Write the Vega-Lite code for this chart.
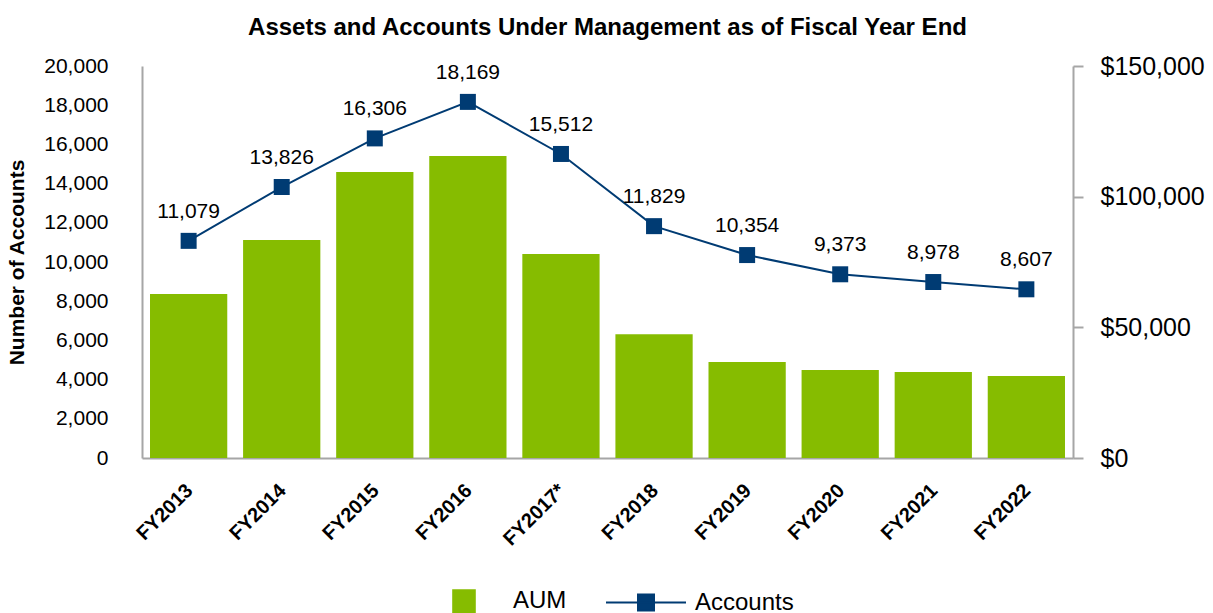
{
  "$schema": "https://vega.github.io/schema/vega-lite/v6.json",
  "width": 931,
  "height": 392,
  "autosize": {"type": "none"},
  "padding": {"left": 142, "top": 66, "right": 140, "bottom": 155},
  "background": "white",
  "title": {
    "text": "Assets and Accounts Under Management as of Fiscal Year End",
    "font": "Liberation Sans",
    "fontSize": 24,
    "fontWeight": "bold",
    "color": "#000000",
    "anchor": "middle",
    "offset": 14
  },
  "data": {
    "values": [
      {"year": "FY2013", "AUM": 62800, "Accounts": 11079},
      {"year": "FY2014", "AUM": 83400, "Accounts": 13826},
      {"year": "FY2015", "AUM": 109400, "Accounts": 16306},
      {"year": "FY2016", "AUM": 115600, "Accounts": 18169},
      {"year": "FY2017*", "AUM": 78100, "Accounts": 15512},
      {"year": "FY2018", "AUM": 47400, "Accounts": 11829},
      {"year": "FY2019", "AUM": 36700, "Accounts": 10354},
      {"year": "FY2020", "AUM": 33700, "Accounts": 9373},
      {"year": "FY2021", "AUM": 32900, "Accounts": 8978},
      {"year": "FY2022", "AUM": 31400, "Accounts": 8607}
    ]
  },
  "config": {
    "view": {"stroke": null},
    "axis": {
      "grid": false,
      "labelFont": "Liberation Sans",
      "titleFont": "Liberation Sans",
      "labelColor": "#000000",
      "titleColor": "#000000",
      "domainColor": "#a6a6a6",
      "tickColor": "#a6a6a6",
      "domainWidth": 2,
      "tickWidth": 2
    }
  },
  "encoding": {
    "x": {
      "field": "year",
      "type": "nominal",
      "sort": null,
      "scale": {"paddingInner": 0.17, "paddingOuter": 0.086},
      "axis": {
        "title": null,
        "labelAngle": -45,
        "labelFontSize": 20,
        "labelFontWeight": "bold",
        "ticks": false,
        "tickSize": 0,
        "labelPadding": 22,
        "labelOffset": -6
      }
    }
  },
  "layer": [
    {
      "mark": {"type": "bar"},
      "encoding": {
        "y": {
          "field": "AUM",
          "type": "quantitative",
          "scale": {"domain": [0, 150000], "nice": false},
          "axis": {
            "orient": "right",
            "title": null,
            "values": [0, 50000, 100000, 150000],
            "format": "$,.0f",
            "labelFontSize": 25,
            "tickSize": 10,
            "labelPadding": 17
          }
        },
        "color": {
          "datum": "AUM",
          "type": "nominal",
          "scale": {"domain": ["AUM", "Accounts"], "range": ["#86BC00", "#003B73"]},
          "legend": {
            "orient": "none",
            "legendX": 281,
            "legendY": 494,
            "direction": "horizontal",
            "title": null,
            "padding": 0,
            "labelFont": "Liberation Sans",
            "labelFontSize": 24,
            "labelColor": "#000000",
            "symbolSize": 6400,
            "labelOffset": 8,
            "columnPadding": 35,
            "encode": {
              "symbols": {
                "update": {
                  "shape": {"signal": "datum.value === 'AUM' ? 'M-0.27,-0.27H0.27V0.27H-0.27Z' : 'M-1,0H1M-0.2,-0.2H0.2V0.2H-0.2Z'"},
                  "fill": {"signal": "datum.value === 'AUM' ? '#86BC00' : '#003B73'"},
                  "stroke": {"signal": "datum.value === 'AUM' ? '#86BC00' : '#003B73'"},
                  "strokeWidth": {"value": 2},
                  "opacity": {"value": 1},
                  "fillOpacity": {"value": 1}
                }
              }
            }
          }
        }
      }
    },
    {
      "encoding": {
        "y": {
          "field": "Accounts",
          "type": "quantitative",
          "scale": {"domain": [0, 20000], "nice": false},
          "axis": {
            "orient": "left",
            "title": "Number of Accounts",
            "titleFontSize": 21,
            "titleFontWeight": "bold",
            "titlePadding": 16,
            "values": [0, 2000, 4000, 6000, 8000, 10000, 12000, 14000, 16000, 18000, 20000],
            "format": ",.0f",
            "labelFontSize": 21,
            "ticks": false,
            "tickSize": 0,
            "labelPadding": 34
          }
        }
      },
      "layer": [
        {
          "mark": {
            "type": "line",
            "strokeWidth": 2,
            "point": {"filled": true, "shape": "square", "size": 256, "opacity": 1}
          },
          "encoding": {
            "color": {"datum": "Accounts", "type": "nominal"}
          }
        },
        {
          "mark": {
            "type": "text",
            "font": "Liberation Sans",
            "fontSize": 21,
            "color": "#000000",
            "baseline": "middle",
            "dy": -29
          },
          "encoding": {
            "text": {"field": "Accounts", "type": "quantitative", "format": ","}
          }
        }
      ]
    }
  ],
  "resolve": {"scale": {"y": "independent"}}
}
